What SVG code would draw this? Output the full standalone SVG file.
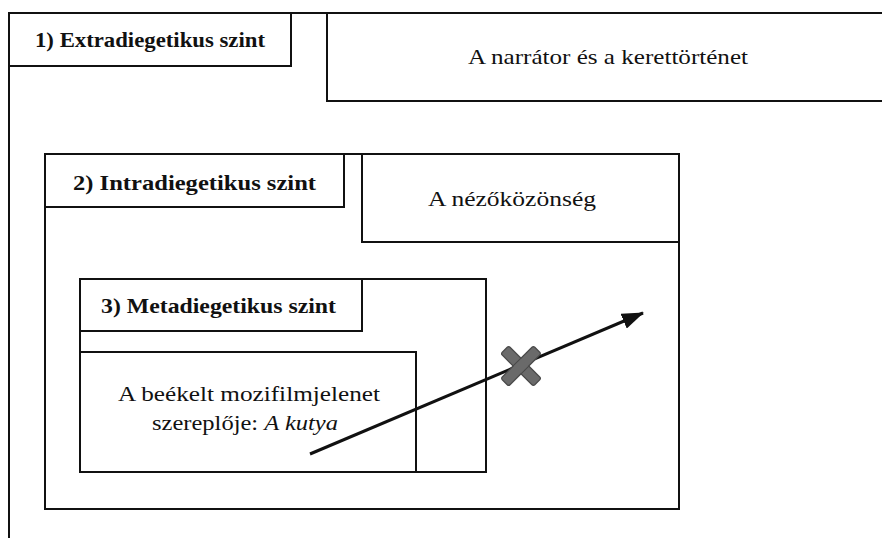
<svg xmlns="http://www.w3.org/2000/svg" width="882" height="538" viewBox="0 0 882 538">
<style>
.box{fill:none;stroke:#111;stroke-width:2}
text{font-family:"Liberation Serif","DejaVu Serif",serif;fill:#111}
.b{font-weight:bold;font-size:22px}
.r{font-size:22px}
</style>
<defs>
<marker id="ah" markerWidth="22" markerHeight="16" refX="21" refY="8" orient="auto" markerUnits="userSpaceOnUse" viewBox="0 0 22 16">
<path d="M0,0 L22,8 L0,16 Z" fill="#111"/>
</marker>
</defs>
<rect width="882" height="538" fill="#fff"/>
<g id="level1">
<path class="box" d="M9,538 V13 H882"/>
<rect class="box" x="9" y="13" width="282" height="53"/>
<text class="b" x="35" y="47" textLength="230" lengthAdjust="spacingAndGlyphs">1) Extradiegetikus szint</text>
</g>
<g id="narrator">
<path class="box" d="M882,101 H327 V13"/>
<text class="r" x="468" y="64" textLength="280" lengthAdjust="spacingAndGlyphs">A narrátor és a kerettörténet</text>
</g>
<g id="level2">
<rect class="box" x="45" y="154" width="634" height="355"/>
<rect class="box" x="45" y="154" width="299" height="53"/>
<text class="b" x="73" y="190" textLength="243" lengthAdjust="spacingAndGlyphs">2) Intradiegetikus szint</text>
</g>
<g id="audience">
<rect class="box" x="362" y="154" width="317" height="88"/>
<text class="r" x="428" y="206" textLength="168" lengthAdjust="spacingAndGlyphs">A nézőközönség</text>
</g>
<g id="level3">
<rect class="box" x="80" y="279" width="406" height="193"/>
<rect class="box" x="80" y="279" width="282" height="52"/>
<text class="b" x="101" y="313" textLength="235" lengthAdjust="spacingAndGlyphs">3) Metadiegetikus szint</text>
</g>
<g id="film">
<rect class="box" x="80" y="352" width="336" height="120"/>
<text class="r" x="118" y="401" textLength="262" lengthAdjust="spacingAndGlyphs">A beékelt mozifilmjelenet</text>
<text class="r" x="152" y="430" textLength="186" lengthAdjust="spacingAndGlyphs">szereplője: <tspan font-style="italic">A kutya</tspan></text>
</g>
<g id="connectors">
<line x1="310" y1="454" x2="643" y2="313" stroke="#111" stroke-width="3" marker-end="url(#ah)"/>
</g>
<g id="cross" transform="translate(521,366) rotate(45)">
<rect x="-23" y="-5.5" width="46" height="11" rx="2" fill="#6a6a6a" stroke="#4a4a4a" stroke-width="1.2"/>
<rect x="-5.5" y="-23" width="11" height="46" rx="2" fill="#6a6a6a" stroke="#4a4a4a" stroke-width="1.2"/>
<rect x="-5" y="-5" width="10" height="10" fill="#6a6a6a"/>
</g>
</svg>
